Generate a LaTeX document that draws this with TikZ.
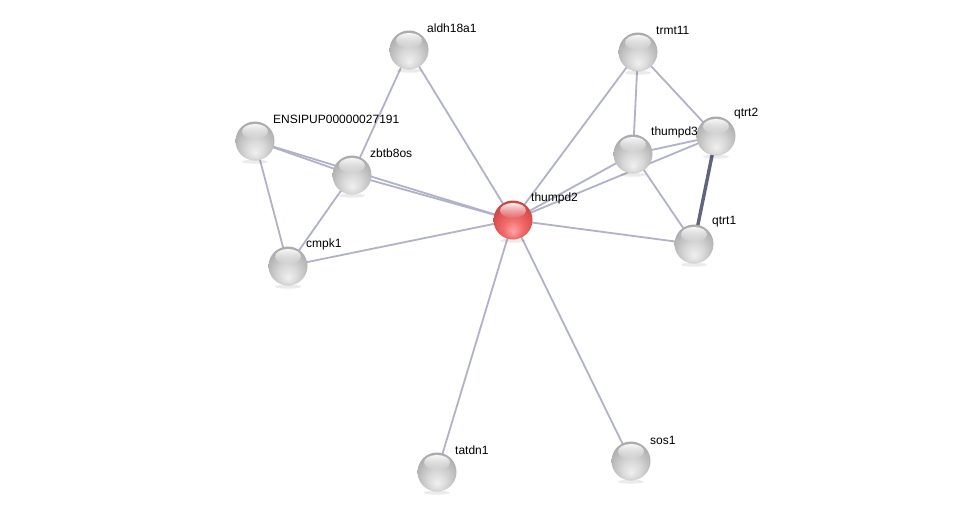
\documentclass[tikz,border=0pt]{standalone}
\usepackage{fontspec}
\setmainfont{Liberation Sans}
\usetikzlibrary{backgrounds,fadings}
\pgfdeclarelayer{bg}
\pgfsetlayers{bg,background,main}
\pgfdeclareradialshading{greyball}{\pgfpoint{0bp}{-15bp}}{color(0bp)=(black!6); color(12bp)=(black!15); color(26bp)=(black!29); color(40bp)=(black!42); color(50bp)=(black!55)}
\pgfdeclareradialshading{redball}{\pgfpoint{0bp}{-15bp}}{color(0bp)=(red!35!white); color(12bp)=(red!55!white!95!black); color(26bp)=(red!65!white!85!black); color(40bp)=(red!70!white!68!black); color(50bp)=(red!70!black)}
\definecolor{edgec}{RGB}{176,178,200}
\definecolor{edgedark}{RGB}{95,100,128}
\tikzset{
  x=1pt, y=-1pt,
  ball/.style={circle, minimum size=39pt, inner sep=0pt, shading=greyball},
  redb/.style={circle, minimum size=39pt, inner sep=0pt, shading=redball},
  lbl/.style={anchor=west, font=\fontsize{12}{14}\selectfont, inner sep=0pt},
  edge/.style={draw=edgec, line width=1.8pt},
  strong/.style={draw=edgedark, line width=3.4pt}
}
\newcommand{\gloss}[1]{%
  \fill[white, opacity=0.9, path fading=south] ([yshift=9.5pt]#1.center) ellipse (13pt and 7.5pt);
  \fill[black, opacity=0.08] ([yshift=-1pt]#1.south) ellipse (13pt and 2pt);
}
\begin{document}
\begin{tikzpicture}
\useasboundingbox (0,0) rectangle (975,517);
\begin{pgfonlayer}{bg}
\fill[white] (0,0) rectangle (975,517);
\end{pgfonlayer}
% nodes
\node[ball] (aldh) at (409,50) {};
\node[ball] (trmt) at (638,52) {};
\node[ball] (ensi) at (255,141) {};
\node[ball] (zbtb) at (352,175) {};
\node[ball] (thu3) at (633,154) {};
\node[ball] (qtr2) at (716,136) {};
\node[redb] (thu2) at (513,220) {};
\node[ball] (qtr1) at (694,244) {};
\node[ball] (cmpk) at (288,266) {};
\node[ball] (tatd) at (437,472) {};
\node[ball] (sos) at (631,461) {};
\foreach \n in {aldh,trmt,ensi,zbtb,thu3,qtr2,thu2,qtr1,cmpk,tatd,sos}{\gloss{\n}}
% labels
\node[lbl] (l1) at (427,28) {aldh18a1};
\node[lbl] (l2) at (656,30) {trmt11};
\node[lbl] (l3) at (273,119) {ENSIPUP00000027191};
\node[lbl] (l4) at (370,153) {zbtb8os};
\node[lbl] (l5) at (651,132) {thumpd3};
\node[lbl] (l6) at (734,114) {qtrt2};
\node[lbl] (l7) at (531,198) {thumpd2};
\node[lbl] (l8) at (712,222) {qtrt1};
\node[lbl] (l9) at (306,244) {cmpk1};
\node[lbl] (l10) at (455,450) {tatdn1};
\node[lbl] (l11) at (650,440) {sos1};
% edges
\begin{pgfonlayer}{background}
\foreach \a/\b in {thu2/aldh, thu2/trmt, thu2/thu3, thu2/qtr2, thu2/qtr1, thu2/cmpk, thu2/zbtb, thu2/ensi, thu2/tatd, thu2/sos,
  ensi/zbtb, ensi/cmpk, zbtb/cmpk, zbtb/aldh,
  trmt/thu3, trmt/qtr2, thu3/qtr2, thu3/qtr1}
  {\path[edge] (\a.center) -- (\b.center);}
\path[strong] (qtr2.center) -- (qtr1.center);
\end{pgfonlayer}
\end{tikzpicture}
\end{document}
